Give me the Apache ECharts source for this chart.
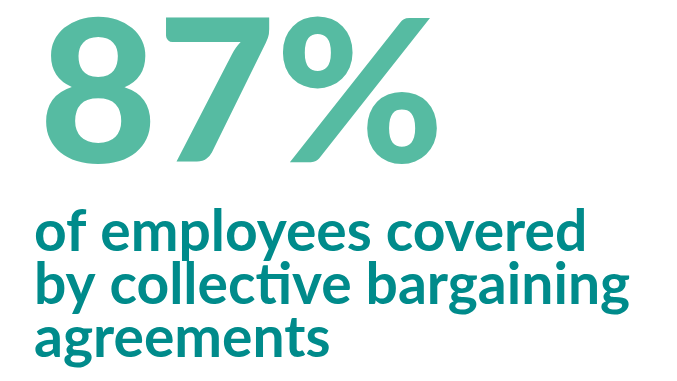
<!DOCTYPE html>
<html><head><meta charset="utf-8">
<script src="https://cdn.jsdelivr.net/npm/echarts@6/dist/echarts.min.js"></script>
<style>html,body{margin:0;padding:0;background:#fff}#c{width:677px;height:381px}</style>
</head><body><div id="c"></div>
<script>
const statValue = ['87%'];
const captionLines = ['of employees covered', 'by collective bargaining', 'agreements'];

const chart = echarts.init(document.getElementById('c'), null, {renderer: 'canvas'});
const elements = [];
elements.push({
  type: 'text', left: 39, top: -2, scaleX: 1.025,
  style: { text: statValue[0], fill: '#56BBA2', font: '900 199px Lato' }
});
captionLines.forEach((t, i) => {
  elements.push({
    type: 'text', left: 34, top: 204 + i * 53,
    style: { text: t, fill: '#008B8B', font: 'bold 57px Lato' }
  });
});
chart.setOption({ backgroundColor: '#fff', graphic: elements });
</script></body></html>
